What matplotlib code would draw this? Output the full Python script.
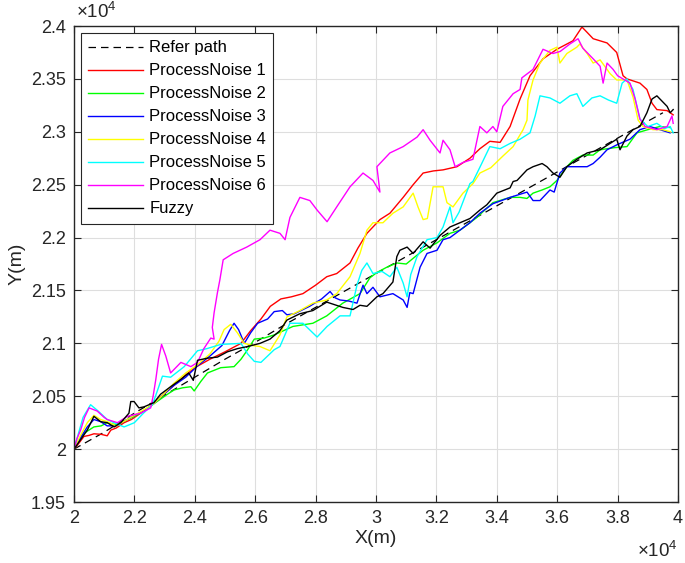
import numpy as np
import matplotlib
matplotlib.use("Agg")
import matplotlib.pyplot as plt
from matplotlib.ticker import FuncFormatter

plt.rcParams['font.family'] = ['Liberation Sans', 'DejaVu Sans']
plt.rcParams['mathtext.fontset'] = 'custom'
plt.rcParams['mathtext.rm'] = 'Liberation Sans'
plt.rcParams['mathtext.it'] = 'Liberation Sans'

# values, in units of 1e4 m
refer_x = [2.0, 2.1, 2.2, 2.3, 2.4, 2.5, 2.6, 2.7, 2.8, 2.9, 3.0, 3.1, 3.2, 3.3, 3.4,
           3.5, 3.6, 3.7, 3.8, 3.9, 3.95]
refer_y = [2.0, 2.016, 2.034, 2.051, 2.068, 2.085, 2.101, 2.118, 2.134, 2.150, 2.166,
           2.182, 2.198, 2.214, 2.230, 2.246, 2.262, 2.278, 2.294, 2.310, 2.318]

pn1_x = [2.0, 2.012, 2.033, 2.05, 2.066, 2.09, 2.11, 2.122, 2.14, 2.166, 2.19, 2.221, 2.25,
         2.29, 2.33, 2.365, 2.4, 2.45, 2.5, 2.553, 2.585, 2.619, 2.65, 2.685, 2.72, 2.758,
         2.8, 2.837, 2.87, 2.914, 2.94, 2.97, 3.013, 3.046, 3.09, 3.123, 3.156, 3.19, 3.222,
         3.268, 3.311, 3.344, 3.377, 3.411, 3.444, 3.477, 3.51, 3.553, 3.599, 3.652, 3.682,
         3.699, 3.719, 3.765, 3.797, 3.818, 3.831, 3.874, 3.897, 3.914, 3.93, 3.964, 3.984]
pn1_y = [2.0, 2.004, 2.012, 2.013, 2.0145, 2.014, 2.0126, 2.018, 2.02, 2.025, 2.028, 2.034,
         2.04, 2.05, 2.06, 2.069, 2.077, 2.085, 2.092, 2.10, 2.112, 2.123, 2.135, 2.142,
         2.144, 2.147, 2.155, 2.163, 2.166, 2.176, 2.19, 2.204, 2.217, 2.223, 2.238, 2.25,
         2.261, 2.263, 2.264, 2.267, 2.275, 2.284, 2.291, 2.29, 2.305, 2.331, 2.353, 2.369,
         2.378, 2.386, 2.399, 2.394, 2.388, 2.384, 2.375, 2.353, 2.350, 2.346, 2.34, 2.327,
         2.321, 2.32, 2.316]

pn2_x = [2.0, 2.015, 2.033, 2.066, 2.09, 2.11, 2.14, 2.17, 2.2, 2.23, 2.26, 2.29, 2.31, 2.332,
         2.36, 2.387, 2.398, 2.42, 2.442, 2.486, 2.53, 2.553, 2.575, 2.597, 2.63, 2.663,
         2.725, 2.791, 2.837, 2.89, 2.947, 2.98, 3.003, 3.036, 3.069, 3.1, 3.13, 3.156,
         3.202, 3.245, 3.278, 3.311, 3.334, 3.36, 3.387, 3.444, 3.477, 3.5, 3.52, 3.55,
         3.576, 3.599, 3.632, 3.652, 3.685, 3.719, 3.742, 3.79, 3.831, 3.864, 3.9, 3.94, 3.974]
pn2_y = [2.0, 2.008, 2.015, 2.021, 2.022, 2.025, 2.023, 2.027, 2.031, 2.036, 2.042, 2.048,
         2.052, 2.056, 2.058, 2.059, 2.055, 2.064, 2.072, 2.077, 2.078, 2.085, 2.094, 2.104,
         2.105, 2.108, 2.116, 2.119, 2.126, 2.138, 2.147, 2.162, 2.167, 2.172, 2.176, 2.175,
         2.182, 2.188, 2.195, 2.204, 2.207, 2.214, 2.219, 2.226, 2.233, 2.238, 2.238, 2.237,
         2.242, 2.245, 2.248, 2.254, 2.267, 2.273, 2.278, 2.278, 2.283, 2.285, 2.286, 2.299,
         2.302, 2.305, 2.304]

pn3_x = [2.0, 2.02, 2.044, 2.066, 2.088, 2.11, 2.14, 2.17, 2.2, 2.23, 2.26, 2.29, 2.33, 2.37,
         2.41, 2.45, 2.49, 2.515, 2.53, 2.545, 2.564, 2.585, 2.608, 2.641, 2.663, 2.69, 2.705,
         2.73, 2.78, 2.82, 2.848, 2.865, 2.881, 2.91, 2.937, 2.957, 2.97, 2.99, 3.013, 3.056,
         3.09, 3.103, 3.112, 3.123, 3.146, 3.169, 3.202, 3.222, 3.245, 3.278, 3.311, 3.344,
         3.387, 3.444, 3.5, 3.52, 3.543, 3.576, 3.59, 3.609, 3.632, 3.665, 3.699, 3.719,
         3.742, 3.765, 3.80, 3.841, 3.874, 3.907, 3.94, 3.974]
pn3_y = [2.0, 2.01, 2.021, 2.028, 2.026, 2.022, 2.022, 2.027, 2.032, 2.036, 2.042, 2.05,
         2.06, 2.068, 2.079, 2.088, 2.098, 2.112, 2.119, 2.113, 2.10, 2.11, 2.119, 2.123,
         2.13, 2.131, 2.127, 2.128, 2.135, 2.142, 2.149, 2.143, 2.141, 2.14, 2.138, 2.155,
         2.147, 2.153, 2.144, 2.147, 2.141, 2.134, 2.148, 2.147, 2.172, 2.185, 2.188, 2.198,
         2.2, 2.207, 2.214, 2.223, 2.232, 2.238, 2.243, 2.235, 2.235, 2.245, 2.243, 2.261,
         2.267, 2.267, 2.267, 2.27, 2.276, 2.283, 2.288, 2.293, 2.302, 2.305, 2.302, 2.299]

pn4_x = [2.0, 2.02, 2.044, 2.066, 2.088, 2.11, 2.14, 2.17, 2.2, 2.23, 2.26, 2.29, 2.33, 2.37,
         2.41, 2.45, 2.48, 2.497, 2.519, 2.541, 2.564, 2.59, 2.616, 2.649, 2.682, 2.705,
         2.748, 2.791, 2.837, 2.87, 2.914, 2.947, 2.97, 2.99, 3.023, 3.056, 3.09, 3.123,
         3.139, 3.156, 3.17, 3.189, 3.222, 3.235, 3.255, 3.288, 3.321, 3.344, 3.38, 3.42,
         3.454, 3.487, 3.5, 3.503, 3.52, 3.543, 3.576, 3.599, 3.609, 3.632, 3.665, 3.675,
         3.699, 3.719, 3.742, 3.775, 3.797, 3.831, 3.851, 3.868, 3.884, 3.917, 3.95, 3.975]
pn4_y = [2.0, 2.012, 2.025, 2.032, 2.028, 2.026, 2.022, 2.027, 2.032, 2.037, 2.042, 2.05,
         2.062, 2.072, 2.08, 2.09, 2.102, 2.113, 2.118, 2.11, 2.10, 2.098, 2.097, 2.093,
         2.108, 2.125, 2.131, 2.138, 2.141, 2.147, 2.163, 2.185, 2.207, 2.214, 2.214, 2.223,
         2.229, 2.242, 2.229, 2.217, 2.218, 2.248, 2.248, 2.233, 2.229, 2.242, 2.251, 2.261,
         2.266, 2.277, 2.286, 2.302, 2.311, 2.33, 2.349, 2.365, 2.377, 2.38, 2.365, 2.374,
         2.38, 2.383, 2.374, 2.365, 2.368, 2.355, 2.349, 2.349, 2.333, 2.311, 2.305, 2.302,
         2.302, 2.3]

pn5_x = [2.0, 2.015, 2.03, 2.055, 2.08, 2.11, 2.14, 2.166, 2.2, 2.23, 2.26, 2.293, 2.32,
         2.365, 2.409, 2.44, 2.486, 2.553, 2.575, 2.597, 2.619, 2.663, 2.682, 2.715, 2.758,
         2.805, 2.838, 2.881, 2.914, 2.937, 2.953, 2.97, 2.99, 3.02, 3.046, 3.069, 3.09,
         3.103, 3.115, 3.136, 3.169, 3.202, 3.222, 3.245, 3.255, 3.275, 3.311, 3.321, 3.35,
         3.377, 3.411, 3.444, 3.477, 3.51, 3.527, 3.543, 3.576, 3.609, 3.642, 3.665, 3.685,
         3.715, 3.742, 3.77, 3.797, 3.815, 3.831, 3.851, 3.874, 3.9, 3.93, 3.955, 3.974, 3.984]
pn5_y = [2.0, 2.015, 2.03, 2.042, 2.036, 2.028, 2.024, 2.021, 2.025, 2.034, 2.042, 2.069,
         2.068, 2.078, 2.093, 2.095, 2.099, 2.10, 2.09, 2.083, 2.082, 2.094, 2.097, 2.119,
         2.119, 2.106, 2.116, 2.126, 2.126, 2.155, 2.169, 2.176, 2.166, 2.168, 2.163, 2.172,
         2.157, 2.144, 2.165, 2.182, 2.198, 2.2, 2.21, 2.229, 2.214, 2.224, 2.251, 2.253,
         2.27, 2.286, 2.284, 2.289, 2.293, 2.299, 2.315, 2.334, 2.332, 2.327, 2.334, 2.336,
         2.324, 2.332, 2.334, 2.33, 2.327, 2.346, 2.35, 2.34, 2.312, 2.305, 2.308, 2.303,
         2.305, 2.299]

pn6_x = [2.0, 2.01, 2.022, 2.035, 2.05, 2.077, 2.1, 2.11, 2.144, 2.177, 2.221, 2.254, 2.262,
         2.271, 2.28, 2.29, 2.304, 2.32, 2.354, 2.387, 2.409, 2.43, 2.453, 2.464, 2.458,
         2.464, 2.475, 2.483, 2.494, 2.527, 2.572, 2.616, 2.649, 2.682, 2.699, 2.715, 2.748,
         2.781, 2.805, 2.838, 2.87, 2.914, 2.957, 2.99, 3.013, 3.003, 3.046, 3.09, 3.136,
         3.156, 3.179, 3.212, 3.222, 3.245, 3.262, 3.288, 3.321, 3.344, 3.367, 3.387, 3.4,
         3.42, 3.454, 3.477, 3.483, 3.52, 3.553, 3.586, 3.61, 3.642, 3.669, 3.685, 3.719,
         3.742, 3.752, 3.765, 3.785, 3.80, 3.841, 3.858, 3.874, 3.891, 3.93, 3.964, 3.98, 3.984]
pn6_y = [2.0, 2.01, 2.018, 2.03, 2.039, 2.036, 2.03, 2.028, 2.025, 2.031, 2.034, 2.039, 2.05,
         2.066, 2.085, 2.099, 2.088, 2.072, 2.082, 2.078, 2.082, 2.095, 2.105, 2.104, 2.115,
         2.129, 2.148, 2.16, 2.179, 2.185, 2.191, 2.198, 2.207, 2.204, 2.198, 2.219, 2.238,
         2.235, 2.226, 2.215, 2.229, 2.248, 2.261, 2.254, 2.243, 2.267, 2.28, 2.286, 2.295,
         2.302, 2.292, 2.28, 2.292, 2.283, 2.267, 2.271, 2.274, 2.305, 2.299, 2.305, 2.3,
         2.324, 2.336, 2.34, 2.351, 2.359, 2.378, 2.374, 2.376, 2.383, 2.388, 2.379, 2.369,
         2.362, 2.346, 2.365, 2.359, 2.353, 2.346, 2.331, 2.312, 2.305, 2.302, 2.305, 2.315,
         2.308]

fuzzy_x = [2.0, 2.022, 2.044, 2.066, 2.088, 2.11, 2.133, 2.155, 2.182, 2.188, 2.199, 2.215,
           2.232, 2.265, 2.287, 2.32, 2.354, 2.38, 2.395, 2.409, 2.442, 2.475, 2.508, 2.541,
           2.575, 2.616, 2.649, 2.682, 2.705, 2.748, 2.791, 2.837, 2.89, 2.924, 2.947, 2.97,
           3.003, 3.023, 3.056, 3.069, 3.079, 3.103, 3.123, 3.156, 3.179, 3.212, 3.245, 3.278,
           3.311, 3.344, 3.367, 3.40, 3.444, 3.454, 3.467, 3.5, 3.52, 3.55, 3.566, 3.586,
           3.609, 3.632, 3.665, 3.699, 3.742, 3.797, 3.808, 3.831, 3.851, 3.874, 3.897, 3.914,
           3.93, 3.947, 3.964, 3.974, 3.984]
fuzzy_y = [2.0, 2.009, 2.018, 2.031, 2.026, 2.025, 2.021, 2.025, 2.034, 2.045, 2.045, 2.039,
           2.04, 2.044, 2.052, 2.059, 2.066, 2.072, 2.065, 2.084, 2.086, 2.087, 2.092, 2.095,
           2.097, 2.100, 2.104, 2.112, 2.122, 2.128, 2.131, 2.139, 2.134, 2.132, 2.136, 2.135,
           2.144, 2.147, 2.158, 2.182, 2.188, 2.191, 2.185, 2.196, 2.19, 2.202, 2.21, 2.214,
           2.218, 2.226, 2.231, 2.242, 2.247, 2.253, 2.254, 2.264, 2.267, 2.27, 2.267, 2.261,
           2.257, 2.267, 2.274, 2.28, 2.283, 2.293, 2.283, 2.296, 2.302, 2.305, 2.318, 2.331,
           2.334, 2.329, 2.324, 2.318, 2.321]

labels = ['Refer path', 'ProcessNoise 1', 'ProcessNoise 2', 'ProcessNoise 3',
          'ProcessNoise 4', 'ProcessNoise 5', 'ProcessNoise 6', 'Fuzzy']
colors = ['k', '#ff0000', '#00ff00', '#0000ff', '#ffff00', '#00ffff', '#ff00ff', 'k']
series = [(refer_x, refer_y), (pn1_x, pn1_y), (pn2_x, pn2_y), (pn3_x, pn3_y),
          (pn4_x, pn4_y), (pn5_x, pn5_y), (pn6_x, pn6_y), (fuzzy_x, fuzzy_y)]

fig = plt.figure(figsize=(6.85, 5.63), dpi=100)
ax = fig.add_axes([0.108, 0.1083, 0.8818, 0.8455])

for i, (xs, ys) in enumerate(series):
    x = np.array(xs) * 1e4
    y = np.array(ys) * 1e4
    if i == 0:
        ax.plot(x, y, color=colors[i], lw=0.9, dashes=(6, 4), label=labels[i])
    else:
        ax.plot(x, y, color=colors[i], lw=1.0, label=labels[i])

ax.set_xlim(20000, 40000)
ax.set_ylim(19500, 24000)
ax.set_xticks(np.arange(20000, 40001, 2000))
ax.set_yticks(np.arange(19500, 24001, 500))
fmt = FuncFormatter(lambda v, p: f"{v / 1e4:g}")
ax.xaxis.set_major_formatter(fmt)
ax.yaxis.set_major_formatter(fmt)

ax.grid(True, color='#dedede', lw=0.8)
ax.set_axisbelow(True)
for s in ax.spines.values():
    s.set_color('#262626')
    s.set_linewidth(1.0)
ax.tick_params(direction='in', length=5, width=0.8, top=True, right=True,
               labelsize=13, colors='#262626', pad=6)

ax.set_xlabel('X(m)', fontsize=14, color='#262626', labelpad=2)
ax.set_ylabel('Y(m)', fontsize=14, color='#262626', labelpad=4)

ax.text(0.004, 1.008, r'$\times10^{4}$', transform=ax.transAxes, fontsize=13.5,
        color='#262626', ha='left', va='bottom')
ax.text(1.0, -0.082, r'$\times10^{4}$', transform=ax.transAxes, fontsize=13.5,
        color='#262626', ha='right', va='top')

leg = ax.legend(loc='upper left', fontsize=12, handlelength=3.3, handletextpad=0.35,
                labelspacing=0.48, borderpad=0.44, borderaxespad=0.42, fancybox=False,
                framealpha=1, edgecolor='#262626')
leg.get_frame().set_linewidth(0.8)

fig.savefig('out.png', dpi=100)
